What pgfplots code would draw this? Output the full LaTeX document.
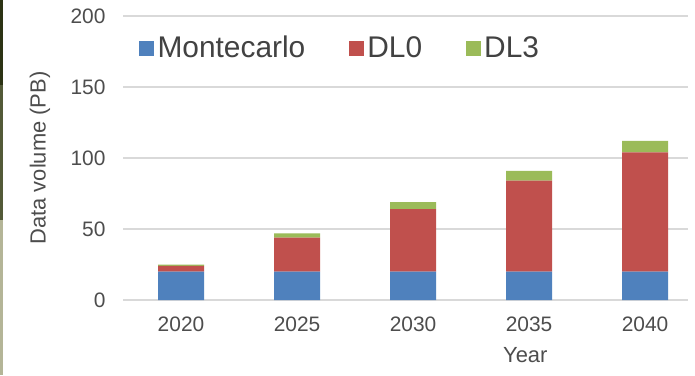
\documentclass[border=0pt]{standalone}
\usepackage{pgfplots}
\pgfplotsset{compat=1.18}
\usepackage{fontspec}
\setmainfont{Liberation Sans}
\definecolor{mcblue}{HTML}{4F81BD}
\definecolor{dlred}{HTML}{C0504D}
\definecolor{dlgreen}{HTML}{9BBB59}
\definecolor{txt}{HTML}{4D4D4D}
\definecolor{gridc}{HTML}{D9D9D9}
\definecolor{edgeA}{HTML}{2C3314}
\definecolor{edgeB}{HTML}{535A38}
\definecolor{edgeC}{HTML}{B4B597}
\begin{document}
\begin{tikzpicture}[x=1bp,y=1bp]
\useasboundingbox (0,0) rectangle (695,375);
\fill[white] (0,0) rectangle (695,375);
% thin frame strip on the left edge
\fill[edgeA] (0,290) rectangle (2.5,375);
\fill[edgeB] (0,155) rectangle (2.5,290);
\fill[edgeC] (0,0) rectangle (2.5,155);
\begin{axis}[
  at={(123bp,75bp)}, anchor=south west,
  scale only axis, width=565bp, height=284bp,
  xmin=-0.5, xmax=4.37, ymin=0, ymax=200,
  ybar stacked, bar width=46bp,
  xtick={0,1,2,3,4}, xticklabels={2020,2025,2030,2035,2040},
  ytick={0,50,100,150,200},
  ymajorgrids, grid style={gridc, line width=1.5bp},
  axis line style={draw=none}, major tick length=0pt,
  /pgf/number format/assume math mode=true,
  tick label style={font=\fontsize{21}{21}\selectfont, text=txt},
  yticklabel style={xshift=-14bp},
  xticklabel style={yshift=-13bp},
  label style={font=\fontsize{22}{22}\selectfont, text=txt},
  ylabel={Data volume (PB)},
  ylabel style={at={(axis description cs:-0.147,0.5)}, anchor=center},
  xlabel={Year},
  xlabel style={at={(axis description cs:0.712,-0.194)}, anchor=center},
  legend columns=3,
  legend image code/.code={\fill[#1, draw=none] (0bp,-8bp) rectangle (15bp,7bp);},
  legend style={draw=none, fill=none, inner sep=0pt,
    at={(axis description cs:0.028,0.889)}, anchor=west,
    font=\fontsize{30}{30}\selectfont, text=txt!85!black,
    /tikz/every even column/.append style={column sep=40bp},
    /tikz/every odd column/.append style={column sep=0bp},
    nodes={inner sep=3.5bp}},
]
\addplot[fill=mcblue, draw=none] coordinates {(0,20) (1,20) (2,20) (3,20) (4,20)};
\addplot[fill=dlred, draw=none] coordinates {(0,4) (1,24) (2,44) (3,64) (4,84)};
\addplot[fill=dlgreen, draw=none] coordinates {(0,1) (1,3) (2,5) (3,7) (4,8)};
\legend{Montecarlo, DL0, DL3}
\end{axis}
\end{tikzpicture}
\end{document}
